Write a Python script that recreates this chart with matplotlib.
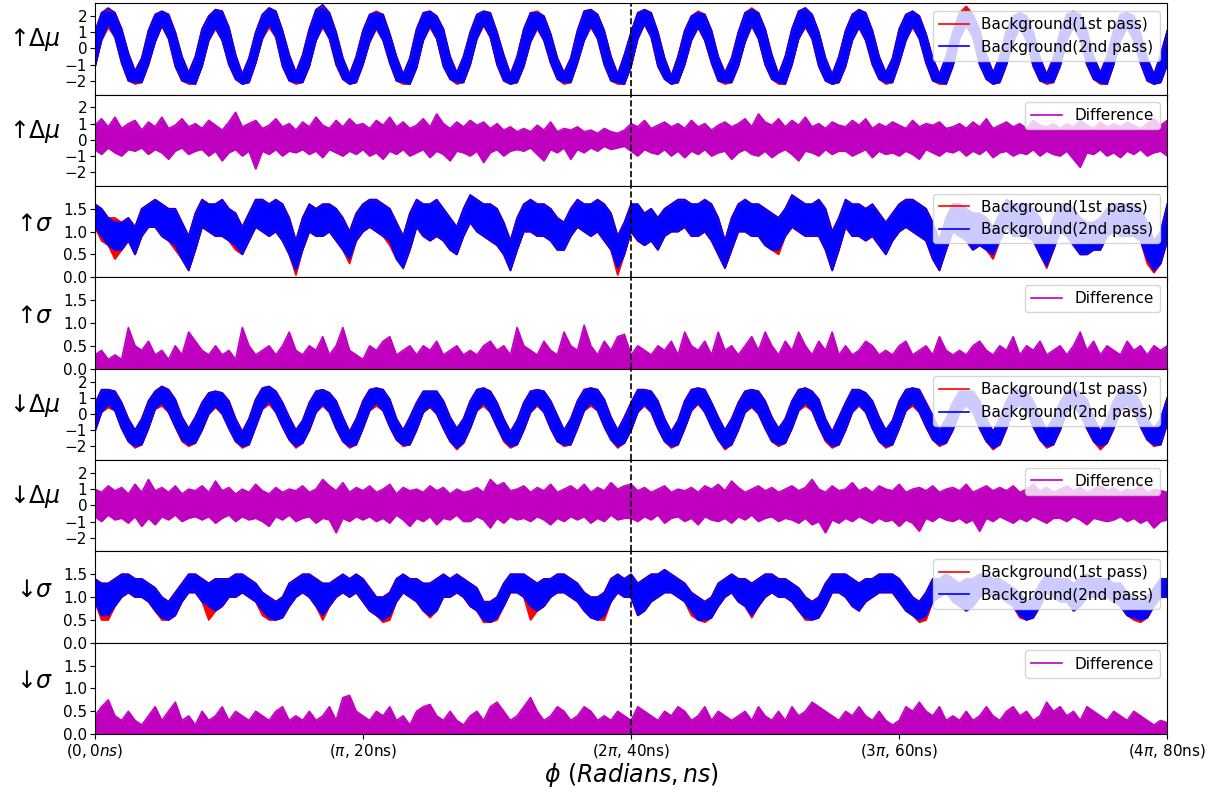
import numpy as np
import matplotlib
matplotlib.use("Agg")
import matplotlib.pyplot as plt

# ---------------- data (0.5 ns sampling, 0..80 ns) ----------------
T_NS = np.linspace(0, 80, 161)
DASH_X = 40
XTICKS = [0, 20, 40, 60, 80]
XTICKLABELS = [r'$(0, 0ns)$', r'($\pi$, 20ns)', r'(2$\pi$, 40ns)', r'(3$\pi$, 60ns)', r'(4$\pi$, 80ns)']
YLABELS = ['↑$\\Delta\\mu$', '↑$\\Delta\\mu$', '↑$\\sigma$', '↑$\\sigma$',
           '↓$\\Delta\\mu$', '↓$\\Delta\\mu$', '↓$\\sigma$', '↓$\\sigma$']

# ↑Δμ  (upper / lower edge of the noisy traces in each 0.5 ns bin)
UP_DMU_BLUE_HI = [
    1.0, 2.2, 2.5, 2.2, 1.2, -0.3, -1.4, -0.6,
    1.1, 2.1, 2.3, 2.1, 1.0, -0.5, -1.5, -0.5,
    1.2, 2.0, 2.4, 2.3, 1.3, -0.4, -1.6, -0.6,
    1.0, 2.1, 2.5, 2.3, 1.1, -0.4, -1.5, -0.4,
    1.2, 2.4, 2.7, 2.2, 1.0, -0.6, -1.6, -0.5,
    1.1, 2.1, 2.2, 2.1, 0.9, -0.5, -1.6, -0.6,
    1.2, 2.2, 2.3, 2.0, 1.2, -0.5, -1.5, -0.5,
    1.0, 2.1, 2.3, 2.2, 1.0, -0.4, -1.6, -0.5,
    1.2, 2.2, 2.2, 2.0, 0.9, -0.6, -1.5, -0.6,
    1.1, 2.3, 2.4, 2.1, 1.1, -0.5, -1.6, -0.4,
    1.0, 2.2, 2.4, 2.2, 1.0, -0.6, -1.7, -0.5,
    1.1, 2.0, 2.2, 2.1, 1.1, -0.5, -1.5, -0.6,
    1.0, 2.2, 2.4, 2.2, 1.2, -0.4, -1.6, -0.5,
    1.2, 2.3, 2.5, 2.1, 1.0, -0.6, -1.6, -0.5,
    1.1, 2.1, 2.4, 2.2, 1.1, -0.5, -1.5, -0.6,
    1.2, 2.1, 2.3, 2.0, 0.9, -0.6, -1.6, -0.5,
    1.0, 2.2, 2.3, 2.1, 1.1, -0.4, -1.5, -0.5,
    1.1, 2.0, 2.2, 2.0, 1.0, -0.6, -1.6, -0.6,
    1.0, 2.1, 2.2, 2.1, 1.1, -0.5, -1.5, -0.5,
    1.1, 2.1, 2.2, 2.0, 0.9, -0.6, -1.6, -0.4,
    1.1]
UP_DMU_BLUE_LO = [
    -1.2, 0.5, 1.5, 0.7, -0.9, -2.0, -2.1, -2.1,
    -1.0, 0.4, 1.4, 0.6, -1.1, -2.0, -2.1, -2.2,
    -1.1, 0.5, 1.3, 0.5, -1.0, -1.9, -2.2, -2.1,
    -0.9, 0.6, 1.5, 0.7, -1.1, -2.0, -2.1, -2.1,
    -1.1, 0.5, 1.4, 0.6, -1.0, -1.9, -2.2, -2.1,
    -1.0, 0.4, 1.3, 0.5, -0.9, -2.0, -2.1, -2.2,
    -1.2, 0.5, 1.4, 0.6, -1.1, -1.9, -2.1, -2.1,
    -1.0, 0.6, 1.5, 0.7, -1.0, -2.0, -2.2, -2.1,
    -1.1, 0.4, 1.3, 0.5, -0.9, -1.9, -2.1, -2.1,
    -0.9, 0.5, 1.4, 0.6, -1.0, -2.0, -2.1, -2.2,
    -1.1, 0.6, 1.5, 0.7, -1.1, -1.9, -2.2, -2.1,
    -1.0, 0.5, 1.3, 0.5, -0.9, -2.0, -2.1, -2.1,
    -1.1, 0.4, 1.4, 0.6, -1.0, -1.9, -2.1, -2.2,
    -1.0, 0.6, 1.4, 0.6, -1.1, -2.0, -2.2, -2.1,
    -1.1, 0.5, 1.3, 0.5, -1.0, -1.9, -2.1, -2.1,
    -0.9, 0.5, 1.4, 0.6, -0.9, -2.0, -2.1, -2.2,
    -1.1, 0.6, 1.5, 0.7, -1.0, -1.9, -2.2, -2.1,
    -1.0, 0.4, 1.3, 0.5, -1.1, -2.0, -2.1, -2.1,
    -1.1, 0.5, 1.4, 0.6, -1.0, -1.9, -2.1, -2.2,
    -1.0, 0.5, 1.3, 0.5, -0.9, -2.0, -2.2, -2.1,
    -1.0]
UP_DMU_RED_HI = [
    1.0, 2.2, 2.4, 2.2, 1.2, -0.3, -1.4, -0.6,
    1.1, 2.1, 2.3, 2.1, 1.0, -0.5, -1.5, -0.5,
    1.2, 2.0, 2.4, 2.3, 1.3, -0.4, -1.6, -0.6,
    1.0, 2.1, 2.5, 2.3, 1.1, -0.4, -1.5, -0.4,
    1.2, 2.4, 2.6, 2.2, 1.0, -0.6, -1.6, -0.5,
    1.1, 2.1, 2.3, 2.1, 0.9, -0.5, -1.6, -0.6,
    1.2, 2.2, 2.3, 2.0, 1.2, -0.5, -1.5, -0.5,
    1.0, 2.1, 2.3, 2.2, 1.0, -0.4, -1.6, -0.5,
    1.2, 2.2, 2.3, 2.0, 0.9, -0.6, -1.5, -0.6,
    1.1, 2.3, 2.4, 2.1, 1.1, -0.5, -1.6, -0.4,
    1.0, 2.2, 2.4, 2.2, 1.0, -0.6, -1.7, -0.5,
    1.1, 2.0, 2.3, 2.1, 1.1, -0.5, -1.5, -0.6,
    1.0, 2.2, 2.5, 2.2, 1.2, -0.4, -1.6, -0.5,
    1.2, 2.3, 2.5, 2.1, 1.0, -0.6, -1.6, -0.5,
    1.1, 2.1, 2.4, 2.2, 1.1, -0.5, -1.5, -0.6,
    1.2, 2.1, 2.3, 2.0, 0.9, -0.6, -1.6, -0.5,
    1.0, 2.2, 2.6, 2.1, 1.1, -0.4, -1.5, -0.5,
    1.1, 2.0, 2.2, 2.0, 1.0, -0.6, -1.6, -0.6,
    1.0, 2.1, 2.3, 2.1, 1.1, -0.5, -1.5, -0.5,
    1.1, 2.1, 2.2, 2.0, 0.9, -0.6, -1.6, -0.4,
    1.1]
UP_DMU_RED_LO = [
    -1.2, 0.5, 1.3, 0.7, -0.9, -2.0, -2.2, -2.1,
    -1.0, 0.4, 1.4, 0.6, -1.1, -2.0, -2.2, -2.2,
    -1.1, 0.5, 1.2, 0.5, -1.0, -1.9, -2.2, -2.1,
    -0.9, 0.6, 1.3, 0.7, -1.1, -2.0, -2.2, -2.1,
    -1.1, 0.5, 1.3, 0.6, -1.0, -1.9, -2.2, -2.1,
    -1.0, 0.4, 1.2, 0.5, -0.9, -2.0, -2.2, -2.2,
    -1.2, 0.5, 1.3, 0.6, -1.1, -1.9, -2.2, -2.1,
    -1.0, 0.6, 1.4, 0.7, -1.0, -2.0, -2.2, -2.1,
    -1.1, 0.4, 1.2, 0.5, -0.9, -1.9, -2.2, -2.1,
    -0.9, 0.5, 1.3, 0.6, -1.0, -2.0, -2.2, -2.2,
    -1.1, 0.6, 1.5, 0.7, -1.1, -1.9, -2.2, -2.1,
    -1.0, 0.5, 1.3, 0.5, -0.9, -2.0, -2.2, -2.1,
    -1.1, 0.4, 1.4, 0.6, -1.0, -1.9, -2.2, -2.2,
    -1.0, 0.6, 1.3, 0.6, -1.1, -2.0, -2.2, -2.1,
    -1.1, 0.5, 1.3, 0.5, -1.0, -1.9, -2.2, -2.1,
    -0.9, 0.5, 1.3, 0.6, -0.9, -2.0, -2.2, -2.2,
    -1.1, 0.6, 1.4, 0.7, -1.0, -1.9, -2.2, -2.1,
    -1.0, 0.4, 1.3, 0.5, -1.1, -2.0, -2.2, -2.1,
    -1.1, 0.5, 1.3, 0.6, -1.0, -1.9, -2.2, -2.2,
    -1.0, 0.5, 1.3, 0.5, -0.9, -2.0, -2.2, -2.1,
    -1.0]

# ↑Δμ difference
UP_DMU_DIFF_HI = [
    0.9, 1.3, 0.8, 1.4, 0.7, 1.0, 1.2, 0.6,
    1.1, 0.8, 1.4, 0.7, 0.9, 1.3, 0.8, 1.0,
    0.7, 1.2, 0.9, 0.6, 1.1, 1.7, 0.8, 1.0,
    1.2, 0.7, 0.9, 1.3, 0.8, 1.0, 0.6, 1.1,
    0.8, 1.4, 0.9, 0.7, 1.2, 0.8, 1.3, 0.9,
    1.0, 0.7, 1.2, 0.9, 1.4, 0.8, 1.1, 0.7,
    0.9, 1.3, 0.8, 1.6, 1.0, 0.7, 1.1, 0.8,
    1.2, 0.9, 1.1, 0.7, 1.0, 0.6, 0.8, 0.5,
    0.7, 0.5, 0.9, 0.6, 1.1, 0.5, 0.7, 0.6,
    0.8, 0.5, 0.6, 0.4, 0.7, 0.5, 0.4, 0.6,
    1.0, 0.8, 1.2, 0.7, 0.9, 1.1, 0.8, 1.0,
    0.7, 1.2, 0.8, 1.0, 0.6, 0.9, 1.1, 0.8,
    1.0, 1.3, 0.8, 1.6, 1.1, 0.9, 1.3, 0.8,
    1.2, 0.9, 1.4, 0.8, 1.0, 0.7, 1.1, 0.9,
    0.8, 1.2, 0.9, 1.3, 0.7, 1.0, 0.8, 1.1,
    0.9, 0.7, 1.2, 0.8, 1.0, 0.9, 1.1, 0.7,
    0.8, 1.0, 0.7, 1.1, 0.8, 1.3, 0.7, 0.9,
    1.1, 0.8, 1.0, 0.7, 1.2, 0.9, 0.8, 1.0,
    0.7, 1.0, 0.8, 1.2, 0.9, 0.7, 1.1, 0.8,
    1.0, 0.8, 1.1, 0.9, 0.7, 1.0, 1.3, 0.9,
    1.2]
UP_DMU_DIFF_LO = [
    -0.6, -0.9, -0.5, -0.8, -1.0, -0.6, -0.7, -0.5,
    -0.9, -0.6, -0.8, -1.2, -0.7, -0.5, -0.9, -0.7,
    -0.6, -1.0, -0.7, -1.3, -0.8, -0.6, -1.0, -0.7,
    -1.8, -0.7, -0.9, -0.6, -1.0, -0.7, -0.8, -0.6,
    -0.9, -0.7, -1.1, -0.6, -0.8, -1.0, -0.7, -0.9,
    -0.6, -1.0, -0.8, -1.2, -0.7, -0.9, -0.6, -1.0,
    -0.8, -0.6, -1.1, -0.7, -0.9, -1.3, -0.7, -0.8,
    -1.0, -0.7, -1.4, -0.8, -0.6, -1.0, -0.7, -0.6,
    -0.7, -0.5, -0.9, -1.3, -0.6, -0.8, -0.5, -1.2,
    -0.6, -0.8, -0.5, -0.7, -0.4, -0.6, -0.5, -0.4,
    -0.7, -1.0, -0.6, -0.8, -0.9, -0.6, -1.0, -0.7,
    -1.1, -0.7, -0.9, -0.6, -1.0, -0.8, -0.7, -1.2,
    -0.8, -0.6, -0.9, -1.0, -0.7, -1.1, -0.8, -0.6,
    -0.9, -1.3, -0.7, -0.8, -1.0, -0.6, -0.9, -0.7,
    -0.7, -1.0, -0.8, -0.6, -1.1, -0.7, -0.9, -0.8,
    -1.0, -0.7, -0.9, -1.2, -0.6, -0.8, -1.0, -0.7,
    -0.8, -0.6, -1.0, -0.7, -0.9, -0.6, -1.1, -0.8,
    -0.7, -1.0, -0.8, -0.9, -0.6, -1.0, -0.7, -0.9,
    -1.0, -0.7, -1.2, -1.7, -0.8, -0.9, -0.6, -1.0,
    -0.8, -1.1, -0.7, -0.9, -0.6, -1.0, -0.8, -0.7,
    -1.0]

# ↑σ
UP_SIG_BLUE_HI = [
    1.6, 1.5, 1.3, 1.2, 1.2, 1.3, 1.1, 1.5, 1.6, 1.7, 1.6, 1.5, 1.5, 1.2, 0.9, 1.4,
    1.7, 1.6, 1.6, 1.7, 1.5, 1.4, 1.1, 1.4, 1.7, 1.7, 1.6, 1.7, 1.6, 1.3, 0.8, 1.3,
    1.6, 1.5, 1.6, 1.6, 1.5, 1.3, 1.0, 1.4, 1.6, 1.7, 1.7, 1.6, 1.5, 1.2, 0.9, 1.4,
    1.7, 1.6, 1.6, 1.7, 1.5, 1.3, 1.1, 1.5, 1.8, 1.7, 1.6, 1.6, 1.5, 1.2, 0.8, 1.3,
    1.6, 1.7, 1.6, 1.6, 1.5, 1.3, 1.2, 1.5, 1.7, 1.6, 1.6, 1.7, 1.6, 1.4, 0.9, 1.2,
    1.6, 1.6, 1.4, 1.5, 1.3, 1.5, 1.6, 1.7, 1.7, 1.6, 1.6, 1.7, 1.6, 1.3, 0.8, 1.3,
    1.6, 1.7, 1.6, 1.6, 1.5, 1.4, 1.3, 1.5, 1.8, 1.7, 1.6, 1.6, 1.7, 1.5, 1.0, 1.3,
    1.7, 1.6, 1.6, 1.5, 1.6, 1.4, 1.2, 1.4, 1.6, 1.7, 1.7, 1.6, 1.5, 1.2, 0.8, 1.3,
    1.6, 1.6, 1.5, 1.4, 1.4, 1.3, 1.1, 1.4, 1.7, 1.6, 1.6, 1.6, 1.5, 1.3, 0.9, 1.3,
    1.6, 1.6, 1.5, 1.3, 1.2, 1.2, 1.3, 1.5, 1.6, 1.6, 1.6, 1.6, 1.5, 1.2, 0.8, 1.0,
    1.6]
UP_SIG_BLUE_LO = [
    1.1, 0.9, 0.7, 0.6, 0.6, 0.8, 0.5, 0.9, 1.1, 1.1, 0.9, 0.8, 0.7, 0.4, 0.15, 0.6,
    1.1, 1.0, 0.9, 0.9, 0.8, 0.7, 0.5, 0.8, 1.1, 1.0, 0.9, 1.0, 0.8, 0.5, 0.15, 0.6,
    1.0, 0.9, 0.9, 1.0, 0.8, 0.6, 0.4, 0.8, 1.0, 1.1, 1.0, 0.9, 0.8, 0.4, 0.2, 0.6,
    1.1, 0.9, 0.8, 0.9, 0.8, 0.6, 0.5, 0.9, 1.2, 1.0, 0.9, 0.8, 0.7, 0.5, 0.15, 0.6,
    1.0, 1.0, 0.9, 0.9, 0.8, 0.6, 0.6, 0.9, 1.1, 1.0, 0.9, 1.0, 0.8, 0.6, 0.2, 0.5,
    1.0, 0.8, 0.7, 0.8, 0.6, 0.9, 1.0, 1.0, 1.1, 0.9, 0.9, 1.0, 0.8, 0.5, 0.2, 0.6,
    1.0, 1.0, 0.9, 0.9, 0.7, 0.6, 0.6, 0.9, 1.1, 1.0, 0.9, 0.9, 0.9, 0.6, 0.15, 0.6,
    1.1, 0.9, 0.9, 0.8, 0.9, 0.7, 0.5, 0.8, 1.0, 1.1, 1.0, 0.9, 0.8, 0.4, 0.15, 0.6,
    1.0, 0.9, 0.8, 0.6, 0.7, 0.6, 0.5, 0.8, 1.1, 0.9, 0.9, 0.9, 0.8, 0.5, 0.25, 0.6,
    1.0, 0.9, 0.7, 0.5, 0.5, 0.6, 0.6, 0.9, 1.0, 0.9, 0.9, 0.9, 0.8, 0.4, 0.15, 0.3,
    0.8]
UP_SIG_RED_HI = [
    1.6, 1.5, 1.3, 1.3, 1.2, 1.3, 1.1, 1.5, 1.6, 1.7, 1.6, 1.5, 1.5, 1.2, 0.9, 1.4,
    1.7, 1.6, 1.6, 1.7, 1.5, 1.4, 1.1, 1.4, 1.7, 1.7, 1.6, 1.7, 1.6, 1.3, 0.8, 1.3,
    1.6, 1.5, 1.6, 1.6, 1.5, 1.3, 1.0, 1.4, 1.6, 1.7, 1.7, 1.6, 1.5, 1.2, 0.9, 1.4,
    1.7, 1.6, 1.6, 1.7, 1.5, 1.3, 1.1, 1.5, 1.8, 1.7, 1.6, 1.6, 1.5, 1.2, 0.8, 1.3,
    1.6, 1.7, 1.6, 1.6, 1.5, 1.3, 1.2, 1.5, 1.7, 1.6, 1.6, 1.7, 1.6, 1.4, 0.9, 1.2,
    1.6, 1.6, 1.4, 1.5, 1.3, 1.5, 1.6, 1.7, 1.7, 1.6, 1.6, 1.7, 1.6, 1.3, 0.8, 1.3,
    1.6, 1.7, 1.6, 1.6, 1.5, 1.4, 1.3, 1.5, 1.8, 1.7, 1.6, 1.6, 1.7, 1.5, 1.0, 1.3,
    1.7, 1.6, 1.6, 1.5, 1.6, 1.4, 1.2, 1.4, 1.6, 1.7, 1.7, 1.6, 1.5, 1.2, 0.8, 1.3,
    1.6, 1.6, 1.5, 1.4, 1.4, 1.3, 1.1, 1.4, 1.7, 1.6, 1.6, 1.6, 1.5, 1.3, 0.9, 1.3,
    1.6, 1.6, 1.5, 1.3, 1.2, 1.2, 1.3, 1.5, 1.6, 1.6, 1.6, 1.6, 1.5, 1.2, 0.8, 1.0,
    1.6]
UP_SIG_RED_LO = [
    1.1, 0.8, 0.7, 0.4, 0.6, 0.8, 0.5, 0.9, 1.1, 1.1, 0.9, 0.8, 0.6, 0.4, 0.15, 0.6,
    1.1, 1.0, 0.9, 0.9, 0.8, 0.6, 0.5, 0.8, 1.1, 1.0, 0.9, 1.0, 0.8, 0.5, 0.05, 0.6,
    1.0, 0.9, 0.9, 1.0, 0.8, 0.6, 0.3, 0.8, 1.0, 1.1, 1.0, 0.9, 0.7, 0.4, 0.2, 0.6,
    1.1, 0.9, 0.8, 0.9, 0.8, 0.6, 0.5, 0.9, 1.2, 1.0, 0.9, 0.8, 0.7, 0.5, 0.15, 0.6,
    1.0, 1.0, 0.9, 0.9, 0.8, 0.6, 0.6, 0.9, 1.1, 1.0, 0.9, 1.0, 0.8, 0.6, 0.05, 0.5,
    1.0, 0.8, 0.7, 0.8, 0.6, 0.9, 1.0, 1.0, 1.1, 0.9, 0.9, 1.0, 0.8, 0.5, 0.2, 0.6,
    1.0, 1.0, 0.9, 0.9, 0.7, 0.6, 0.5, 0.9, 1.1, 1.0, 0.9, 0.9, 0.9, 0.6, 0.15, 0.6,
    1.1, 0.9, 0.9, 0.8, 0.9, 0.7, 0.5, 0.8, 1.0, 1.1, 1.0, 0.9, 0.8, 0.4, 0.15, 0.6,
    1.0, 0.9, 0.8, 0.6, 0.7, 0.6, 0.4, 0.8, 1.1, 0.9, 0.9, 0.9, 0.8, 0.5, 0.2, 0.6,
    1.0, 0.9, 0.7, 0.5, 0.5, 0.6, 0.6, 0.9, 1.0, 0.9, 0.9, 0.9, 0.8, 0.3, 0.1, 0.3,
    0.8]

# ↑σ difference
UP_SIG_DIFF = [
    0.3, 0.4, 0.2, 0.3, 0.2, 0.9, 0.5, 0.4,
    0.6, 0.3, 0.4, 0.2, 0.5, 0.3, 0.8, 0.6,
    0.4, 0.3, 0.5, 0.3, 0.4, 0.2, 0.9, 0.5,
    0.3, 0.4, 0.5, 0.3, 0.5, 0.8, 0.4, 0.3,
    0.5, 0.4, 0.7, 0.3, 0.5, 0.9, 0.4, 0.3,
    0.2, 0.5, 0.4, 0.6, 0.7, 0.3, 0.4, 0.5,
    0.3, 0.5, 0.4, 0.6, 0.3, 0.4, 0.5, 0.3,
    0.4, 0.3, 0.5, 0.6, 0.4, 0.5, 0.3, 0.9,
    0.5, 0.4, 0.3, 0.6, 0.4, 0.3, 0.8, 0.5,
    0.4, 0.95, 0.5, 0.3, 0.6, 0.4, 0.7, 0.75,
    0.3, 0.5, 0.4, 0.3, 0.5, 0.4, 0.6, 0.3,
    0.8, 0.5, 0.4, 0.6, 0.3, 0.8, 0.4, 0.5,
    0.3, 0.5, 0.7, 0.4, 0.8, 0.5, 0.3, 0.6,
    0.4, 0.8, 0.5, 0.3, 0.6, 0.4, 0.8, 0.3,
    0.5, 0.3, 0.4, 0.6, 0.5, 0.3, 0.4, 0.3,
    0.5, 0.6, 0.3, 0.4, 0.5, 0.3, 0.7, 0.4,
    0.3, 0.4, 0.3, 0.5, 0.6, 0.4, 0.3, 0.5,
    0.4, 0.7, 0.3, 0.5, 0.4, 0.6, 0.3, 0.4,
    0.5, 0.3, 0.5, 0.8, 0.4, 0.6, 0.3, 0.5,
    0.4, 0.3, 0.6, 0.4, 0.5, 0.3, 0.5, 0.4,
    0.5]

# ↓Δμ
DN_DMU_BLUE_HI = [
    0.6, 1.5, 1.5, 1.4, 0.7, -0.3, -1.0, -0.3,
    0.8, 1.4, 1.7, 1.5, 0.9, -0.2, -0.9, -0.2,
    0.7, 1.3, 1.4, 1.3, 0.8, -0.3, -1.1, -0.3,
    0.9, 1.6, 1.7, 1.4, 0.7, -0.2, -1.0, -0.4,
    0.7, 1.4, 1.5, 1.3, 0.8, -0.2, -1.1, -0.3,
    0.8, 1.5, 1.6, 1.5, 0.9, -0.3, -1.0, -0.2,
    0.7, 1.4, 1.4, 1.4, 0.8, -0.2, -0.9, -0.3,
    0.8, 1.5, 1.6, 1.4, 0.7, -0.3, -1.1, -0.4,
    0.7, 1.4, 1.5, 1.4, 0.8, -0.1, -1.0, -0.3,
    0.8, 1.5, 1.6, 1.5, 0.9, -0.2, -1.0, -0.2,
    0.7, 1.5, 1.5, 1.4, 0.8, -0.3, -1.1, -0.4,
    0.8, 1.5, 1.6, 1.5, 0.7, -0.2, -1.0, -0.3,
    0.7, 1.4, 1.5, 1.4, 0.8, -0.2, -0.9, -0.3,
    0.8, 1.5, 1.6, 1.4, 0.9, -0.3, -1.1, -0.2,
    0.7, 1.5, 1.5, 1.3, 0.8, -0.2, -1.0, -0.4,
    0.8, 1.5, 1.6, 1.5, 0.7, -0.1, -1.0, -0.3,
    0.7, 1.4, 1.4, 1.4, 0.8, -0.3, -1.1, -0.3,
    0.8, 1.5, 1.5, 1.4, 0.8, -0.2, -1.0, -0.2,
    0.7, 1.4, 1.5, 1.3, 0.9, -0.2, -1.1, -0.3,
    0.8, 1.5, 1.4, 1.4, 0.7, -0.3, -0.9, -0.3,
    1.0]
DN_DMU_BLUE_LO = [
    -1.1, 0.1, 0.6, 0.2, -0.9, -1.7, -2.0, -1.9,
    -0.9, 0.3, 0.7, 0.1, -0.8, -1.6, -1.9, -1.8,
    -1.0, 0.0, 0.5, 0.0, -0.9, -1.7, -2.0, -1.9,
    -0.8, 0.3, 0.8, 0.1, -0.8, -1.6, -2.0, -1.8,
    -1.0, 0.1, 0.6, 0.1, -0.9, -1.7, -2.0, -1.9,
    -0.9, 0.2, 0.7, 0.2, -0.8, -1.6, -1.9, -1.9,
    -1.0, 0.1, 0.5, 0.0, -0.9, -1.7, -2.1, -1.8,
    -0.9, 0.2, 0.7, 0.1, -0.8, -1.6, -2.0, -1.9,
    -1.0, 0.1, 0.6, 0.1, -0.9, -1.7, -1.9, -1.9,
    -0.9, 0.2, 0.7, 0.2, -0.8, -1.6, -2.0, -1.8,
    -1.0, 0.1, 0.6, 0.1, -0.9, -1.7, -2.0, -1.9,
    -0.9, 0.2, 0.7, 0.1, -0.8, -1.6, -2.1, -1.9,
    -1.0, 0.1, 0.5, 0.0, -0.9, -1.7, -1.9, -1.8,
    -0.9, 0.2, 0.7, 0.2, -0.8, -1.6, -2.0, -1.9,
    -1.0, 0.1, 0.6, 0.1, -0.9, -1.7, -2.0, -1.9,
    -0.9, 0.2, 0.7, 0.1, -0.8, -1.6, -1.9, -1.8,
    -1.0, 0.1, 0.6, 0.1, -0.9, -1.7, -2.1, -1.9,
    -0.9, 0.2, 0.6, 0.2, -0.8, -1.6, -2.0, -1.9,
    -1.0, 0.1, 0.5, 0.0, -0.9, -1.7, -2.0, -1.8,
    -0.9, 0.2, 0.6, 0.1, -0.8, -1.6, -1.9, -1.9,
    -0.6]
DN_DMU_RED_HI = [
    0.6, 1.5, 1.5, 1.4, 0.7, -0.3, -1.0, -0.3,
    0.8, 1.4, 1.7, 1.5, 0.9, -0.2, -0.9, -0.2,
    0.7, 1.3, 1.4, 1.3, 0.8, -0.3, -1.1, -0.3,
    0.9, 1.6, 1.7, 1.4, 0.7, -0.2, -1.0, -0.4,
    0.7, 1.4, 1.5, 1.3, 0.8, -0.2, -1.1, -0.3,
    0.8, 1.5, 1.6, 1.5, 0.9, -0.3, -1.0, -0.2,
    0.7, 1.4, 1.4, 1.4, 0.8, -0.2, -0.9, -0.3,
    0.8, 1.5, 1.6, 1.4, 0.7, -0.3, -1.1, -0.4,
    0.7, 1.4, 1.5, 1.4, 0.8, -0.1, -1.0, -0.3,
    0.8, 1.5, 1.6, 1.5, 0.9, -0.2, -1.0, -0.2,
    0.7, 1.5, 1.5, 1.4, 0.8, -0.3, -1.1, -0.4,
    0.8, 1.5, 1.6, 1.5, 0.7, -0.2, -1.0, -0.3,
    0.7, 1.4, 1.5, 1.4, 0.8, -0.2, -0.9, -0.3,
    0.8, 1.5, 1.6, 1.4, 0.9, -0.3, -1.1, -0.2,
    0.7, 1.5, 1.5, 1.3, 0.8, -0.2, -1.0, -0.4,
    0.8, 1.5, 1.6, 1.5, 0.7, -0.1, -1.0, -0.3,
    0.7, 1.4, 1.4, 1.4, 0.8, -0.3, -1.1, -0.3,
    0.8, 1.5, 1.5, 1.4, 0.8, -0.2, -1.0, -0.2,
    0.7, 1.4, 1.5, 1.3, 0.9, -0.2, -1.1, -0.3,
    0.8, 1.5, 1.4, 1.4, 0.7, -0.3, -0.9, -0.3,
    1.0]
DN_DMU_RED_LO = [
    -1.1, 0.1, 0.4, 0.2, -0.9, -1.7, -2.1, -1.9,
    -0.9, 0.3, 0.5, 0.1, -0.8, -1.7, -2.0, -1.8,
    -1.0, 0.0, 0.4, 0.0, -0.9, -1.7, -2.1, -1.9,
    -0.8, 0.3, 0.6, 0.1, -0.8, -1.6, -2.1, -1.8,
    -1.0, 0.1, 0.5, 0.1, -0.9, -1.7, -2.1, -1.9,
    -0.9, 0.2, 0.5, 0.2, -0.8, -1.6, -2.0, -1.9,
    -1.0, 0.1, 0.4, 0.0, -0.9, -1.7, -2.2, -1.8,
    -0.9, 0.2, 0.5, 0.1, -0.8, -1.7, -2.1, -1.9,
    -1.0, 0.1, 0.5, 0.1, -0.9, -1.7, -2.0, -1.9,
    -0.9, 0.2, 0.5, 0.2, -0.8, -1.6, -2.1, -1.8,
    -1.0, 0.1, 0.5, 0.1, -0.9, -1.7, -2.1, -1.9,
    -0.9, 0.2, 0.6, 0.1, -0.8, -1.6, -2.2, -1.9,
    -1.0, 0.1, 0.4, 0.0, -0.9, -1.7, -2.0, -1.8,
    -0.9, 0.2, 0.5, 0.2, -0.8, -1.7, -2.1, -1.9,
    -1.0, 0.1, 0.5, 0.1, -0.9, -1.7, -2.1, -1.9,
    -0.9, 0.2, 0.5, 0.1, -0.8, -1.6, -2.0, -1.8,
    -1.0, 0.1, 0.5, 0.1, -0.9, -1.7, -2.2, -1.9,
    -0.9, 0.2, 0.5, 0.2, -0.8, -1.6, -2.1, -1.9,
    -1.0, 0.1, 0.4, 0.0, -0.9, -1.7, -2.2, -1.8,
    -0.9, 0.2, 0.5, 0.1, -0.8, -1.6, -2.0, -1.9,
    -0.6]

# ↓Δμ difference
DN_DMU_DIFF_HI = [
    1.0, 0.8, 1.2, 0.9, 1.1, 0.7, 1.3, 0.8,
    1.6, 0.9, 1.1, 0.8, 1.2, 0.7, 1.0, 0.9,
    1.2, 0.8, 1.5, 0.9, 1.1, 0.7, 1.0, 0.8,
    1.3, 0.9, 0.7, 1.1, 0.8, 1.0, 0.9, 1.2,
    0.8, 1.0, 1.6, 1.2, 0.9, 1.4, 0.8, 1.1,
    0.9, 1.2, 0.8, 1.0, 1.3, 0.7, 1.1, 0.9,
    1.0, 0.8, 1.2, 0.9, 1.1, 0.7, 1.0, 0.8,
    0.9, 1.1, 0.8, 1.6, 1.2, 1.4, 0.9, 1.0,
    1.2, 0.8, 1.1, 0.9, 1.3, 0.8, 1.0, 1.2,
    0.9, 1.3, 0.8, 1.1, 0.9, 1.4, 1.0, 1.2,
    1.3, 0.9, 1.1, 0.8, 1.0, 1.2, 0.8, 1.0,
    0.9, 1.1, 0.8, 1.2, 1.0, 1.3, 0.9, 1.5,
    1.1, 0.8, 1.0, 1.2, 0.9, 1.1, 0.8, 1.0,
    1.2, 0.9, 1.1, 1.6, 1.0, 0.8, 1.2, 0.9,
    1.0, 1.4, 0.9, 1.1, 0.8, 1.2, 1.0, 0.9,
    1.3, 0.8, 1.0, 1.1, 0.9, 1.2, 0.8, 1.0,
    1.1, 0.9, 1.3, 0.8, 1.0, 1.2, 0.9, 1.1,
    0.9, 1.2, 0.8, 1.0, 1.3, 0.9, 1.1, 0.8,
    1.0, 1.2, 0.9, 1.1, 0.8, 1.0, 1.2, 0.9,
    1.1, 0.8, 1.0, 0.9, 1.2, 0.8, 1.0, 0.9,
    0.8]
DN_DMU_DIFF_LO = [
    -0.7, -1.0, -0.6, -0.9, -0.8, -1.1, -0.7, -1.3,
    -0.8, -1.2, -0.7, -0.9, -0.6, -1.0, -0.8, -0.7,
    -0.9, -0.7, -1.1, -0.8, -0.6, -1.0, -0.7, -0.9,
    -0.8, -1.0, -1.3, -0.7, -0.9, -0.6, -1.0, -0.8,
    -0.7, -1.1, -0.8, -0.9, -1.7, -0.8, -1.0, -0.7,
    -0.9, -0.7, -1.0, -0.8, -1.1, -0.6, -0.9, -1.3,
    -0.8, -1.0, -0.7, -1.2, -0.8, -0.9, -0.6, -1.0,
    -1.0, -0.7, -0.9, -1.4, -0.8, -1.1, -0.7, -0.9,
    -0.8, -1.0, -0.7, -0.9, -1.2, -0.8, -1.0, -0.7,
    -0.9, -0.7, -1.1, -0.8, -1.0, -0.6, -0.9, -0.8,
    -0.8, -1.0, -0.7, -0.9, -0.6, -1.1, -0.8, -0.7,
    -1.0, -0.8, -1.2, -0.7, -0.9, -1.0, -0.8, -1.1,
    -0.7, -0.9, -0.6, -1.0, -0.8, -0.7, -1.0, -0.8,
    -0.9, -1.1, -0.8, -1.2, -1.0, -1.7, -0.9, -1.1,
    -0.8, -1.0, -0.7, -0.9, -1.1, -0.8, -1.0, -0.9,
    -1.3, -0.9, -1.1, -1.6, -0.8, -1.0, -0.7, -0.9,
    -1.0, -0.8, -1.1, -0.9, -1.6, -0.8, -1.0, -0.7,
    -0.9, -1.1, -0.8, -1.0, -0.7, -0.9, -1.1, -0.8,
    -0.8, -1.0, -0.7, -0.9, -1.2, -0.8, -0.9, -1.0,
    -0.9, -0.7, -1.0, -0.8, -1.1, -0.9, -1.4, -1.0,
    -0.9]

# ↓σ
DN_SIG_BLUE_HI = [
    1.4, 1.3, 1.3, 1.4, 1.5, 1.5, 1.4, 1.4, 1.3, 1.2, 1.0, 0.9, 1.1, 1.3, 1.5, 1.5,
    1.4, 1.3, 1.4, 1.4, 1.4, 1.5, 1.5, 1.4, 1.3, 1.1, 1.0, 0.9, 1.0, 1.3, 1.4, 1.5,
    1.5, 1.4, 1.3, 1.3, 1.4, 1.5, 1.4, 1.5, 1.4, 1.2, 1.0, 1.0, 1.1, 1.4, 1.5, 1.4,
    1.4, 1.3, 1.3, 1.4, 1.5, 1.4, 1.5, 1.4, 1.3, 1.2, 0.9, 0.9, 1.0, 1.3, 1.5, 1.5,
    1.5, 1.4, 1.3, 1.4, 1.4, 1.5, 1.5, 1.4, 1.3, 1.1, 1.0, 1.0, 1.1, 1.4, 1.5, 1.4,
    1.5, 1.3, 1.4, 1.5, 1.5, 1.6, 1.5, 1.4, 1.3, 1.1, 1.0, 0.9, 1.0, 1.3, 1.4, 1.5,
    1.4, 1.4, 1.3, 1.4, 1.5, 1.5, 1.4, 1.4, 1.3, 1.2, 1.0, 0.9, 1.0, 1.3, 1.5, 1.5,
    1.5, 1.4, 1.3, 1.4, 1.4, 1.5, 1.5, 1.5, 1.4, 1.2, 1.0, 0.9, 1.1, 1.4, 1.4, 1.5,
    1.4, 1.3, 1.4, 1.4, 1.5, 1.5, 1.4, 1.4, 1.3, 1.2, 1.1, 0.9, 1.0, 1.3, 1.5, 1.4,
    1.4, 1.4, 1.3, 1.4, 1.5, 1.4, 1.4, 1.4, 1.3, 1.3, 1.1, 1.0, 0.9, 1.0, 1.2, 1.4,
    1.4]
DN_SIG_BLUE_LO = [
    0.9, 0.6, 0.6, 0.8, 1.0, 1.1, 1.0, 1.0, 0.9, 0.7, 0.55, 0.5, 0.6, 0.9, 1.1, 1.1,
    0.9, 0.8, 0.7, 0.8, 1.0, 1.0, 1.1, 1.0, 0.9, 0.7, 0.55, 0.5, 0.55, 0.8, 1.0, 1.1,
    1.0, 0.8, 0.6, 0.8, 1.0, 1.1, 1.0, 1.1, 0.9, 0.7, 0.6, 0.5, 0.6, 0.9, 1.1, 1.0,
    0.9, 0.7, 0.6, 0.7, 1.0, 1.0, 1.1, 1.0, 0.8, 0.7, 0.5, 0.45, 0.55, 0.8, 1.1, 1.1,
    1.0, 0.8, 0.7, 0.8, 1.0, 1.1, 1.1, 1.0, 0.9, 0.7, 0.55, 0.5, 0.6, 0.9, 1.1, 1.0,
    1.0, 0.6, 0.7, 0.9, 1.0, 1.1, 1.1, 1.0, 0.9, 0.7, 0.5, 0.5, 0.55, 0.8, 1.0, 1.1,
    0.9, 0.8, 0.6, 0.8, 1.0, 1.1, 1.0, 1.0, 0.9, 0.7, 0.55, 0.5, 0.55, 0.8, 1.1, 1.1,
    1.0, 0.8, 0.7, 0.9, 1.0, 1.1, 1.1, 1.1, 0.9, 0.7, 0.6, 0.5, 0.6, 0.9, 1.0, 1.1,
    0.9, 0.8, 0.7, 0.8, 1.0, 1.1, 1.0, 1.0, 0.9, 0.8, 0.6, 0.5, 0.55, 0.8, 1.1, 1.0,
    0.9, 0.9, 0.7, 0.8, 1.0, 1.0, 1.0, 1.0, 0.9, 0.8, 0.6, 0.55, 0.5, 0.55, 0.8, 1.0,
    1.0]
DN_SIG_RED_HI = [
    1.4, 1.3, 1.3, 1.4, 1.5, 1.5, 1.4, 1.4, 1.3, 1.2, 1.0, 0.9, 1.1, 1.3, 1.5, 1.5,
    1.4, 1.3, 1.4, 1.4, 1.4, 1.5, 1.5, 1.4, 1.3, 1.1, 1.0, 0.9, 1.0, 1.3, 1.4, 1.5,
    1.5, 1.4, 1.3, 1.3, 1.4, 1.5, 1.4, 1.5, 1.4, 1.2, 1.0, 1.0, 1.1, 1.4, 1.5, 1.4,
    1.4, 1.3, 1.3, 1.4, 1.5, 1.4, 1.5, 1.4, 1.3, 1.2, 0.9, 0.9, 1.0, 1.3, 1.5, 1.5,
    1.5, 1.4, 1.3, 1.4, 1.4, 1.5, 1.5, 1.4, 1.3, 1.1, 1.0, 1.0, 1.1, 1.4, 1.5, 1.4,
    1.5, 1.3, 1.4, 1.5, 1.5, 1.6, 1.5, 1.4, 1.3, 1.1, 1.0, 0.9, 1.0, 1.3, 1.4, 1.5,
    1.4, 1.4, 1.3, 1.4, 1.5, 1.5, 1.4, 1.4, 1.3, 1.2, 1.0, 0.9, 1.0, 1.3, 1.5, 1.5,
    1.5, 1.4, 1.3, 1.4, 1.4, 1.5, 1.5, 1.5, 1.4, 1.2, 1.0, 0.9, 1.1, 1.4, 1.4, 1.5,
    1.4, 1.3, 1.4, 1.4, 1.5, 1.5, 1.4, 1.4, 1.3, 1.2, 1.1, 0.9, 1.0, 1.3, 1.5, 1.4,
    1.4, 1.4, 1.3, 1.4, 1.5, 1.4, 1.4, 1.4, 1.3, 1.3, 1.1, 1.0, 0.9, 1.0, 1.2, 1.4,
    1.4]
DN_SIG_RED_LO = [
    0.9, 0.5, 0.5, 0.8, 1.0, 1.1, 1.0, 1.0, 0.9, 0.7, 0.5, 0.5, 0.6, 0.9, 1.1, 1.1,
    0.9, 0.5, 0.7, 0.8, 1.0, 1.0, 1.1, 1.0, 0.9, 0.6, 0.5, 0.5, 0.55, 0.8, 1.0, 1.1,
    1.0, 0.8, 0.5, 0.8, 1.0, 1.1, 1.0, 1.1, 0.9, 0.7, 0.6, 0.45, 0.5, 0.9, 1.1, 1.0,
    0.9, 0.7, 0.55, 0.7, 1.0, 1.0, 1.1, 1.0, 0.8, 0.7, 0.45, 0.45, 0.5, 0.8, 1.1, 1.1,
    1.0, 0.5, 0.7, 0.8, 1.0, 1.1, 1.1, 1.0, 0.9, 0.7, 0.55, 0.5, 0.5, 0.9, 1.1, 1.0,
    1.0, 0.6, 0.7, 0.9, 1.0, 1.1, 1.1, 1.0, 0.9, 0.6, 0.5, 0.45, 0.55, 0.8, 1.0, 1.1,
    0.9, 0.8, 0.55, 0.8, 1.0, 1.1, 1.0, 1.0, 0.9, 0.7, 0.5, 0.5, 0.55, 0.8, 1.1, 1.1,
    1.0, 0.8, 0.7, 0.9, 1.0, 1.1, 1.1, 1.1, 0.9, 0.7, 0.6, 0.45, 0.5, 0.9, 1.0, 1.1,
    0.9, 0.8, 0.7, 0.8, 1.0, 1.1, 1.0, 1.0, 0.9, 0.8, 0.55, 0.5, 0.55, 0.8, 1.1, 1.0,
    0.9, 0.9, 0.7, 0.8, 1.0, 1.0, 1.0, 1.0, 0.9, 0.8, 0.6, 0.5, 0.45, 0.55, 0.8, 1.0,
    1.0]

# ↓σ difference
DN_SIG_DIFF = [
    0.4, 0.6, 0.75, 0.4, 0.3, 0.5, 0.3, 0.2,
    0.4, 0.6, 0.3, 0.5, 0.7, 0.3, 0.4, 0.2,
    0.5, 0.3, 0.4, 0.6, 0.3, 0.5, 0.4, 0.3,
    0.5, 0.4, 0.3, 0.5, 0.6, 0.3, 0.4, 0.3,
    0.5, 0.3, 0.4, 0.6, 0.3, 0.8, 0.85, 0.5,
    0.4, 0.3, 0.5, 0.4, 0.6, 0.3, 0.4, 0.2,
    0.5, 0.6, 0.65, 0.4, 0.3, 0.5, 0.3, 0.2,
    0.4, 0.5, 0.3, 0.6, 0.7, 0.5, 0.3, 0.4,
    0.6, 0.8, 0.5, 0.3, 0.4, 0.6, 0.5, 0.3,
    0.4, 0.6, 0.5, 0.3, 0.4, 0.3, 0.5, 0.4,
    0.3, 0.6, 0.5, 0.4, 0.3, 0.5, 0.4, 0.6,
    0.5, 0.3, 0.4, 0.6, 0.3, 0.5, 0.4, 0.3,
    0.4, 0.5, 0.3, 0.6, 0.4, 0.3, 0.5, 0.3,
    0.6, 0.4, 0.5, 0.7, 0.6, 0.5, 0.4, 0.3,
    0.5, 0.4, 0.6, 0.4, 0.3, 0.5, 0.3, 0.2,
    0.3, 0.6, 0.5, 0.7, 0.5, 0.4, 0.6, 0.3,
    0.4, 0.3, 0.5, 0.3, 0.4, 0.6, 0.4, 0.3,
    0.5, 0.6, 0.4, 0.5, 0.3, 0.4, 0.7, 0.5,
    0.6, 0.4, 0.5, 0.3, 0.6, 0.5, 0.4, 0.3,
    0.5, 0.4, 0.3, 0.5, 0.4, 0.3, 0.2, 0.3,
    0.25]

# ---------------- figure ----------------
RED, BLUE, MAG = '#ff0000', '#0000ff', '#bf00bf'

fig, axes = plt.subplots(8, 1, sharex=True, figsize=(12.16, 7.92), dpi=100)
fig.subplots_adjust(left=0.078, right=0.96, top=0.996, bottom=0.073, hspace=0)


def band(ax, lo, hi, color, label=None, lw=1.2):
    lo = np.asarray(lo, float)
    hi = np.asarray(hi, float)
    ax.fill_between(T_NS, lo, hi, color=color, lw=0)
    ax.plot(T_NS, hi, color=color, lw=lw, label=label)
    ax.plot(T_NS, lo, color=color, lw=lw)


pairs = [
    ('bg', UP_DMU_RED_LO, UP_DMU_RED_HI, UP_DMU_BLUE_LO, UP_DMU_BLUE_HI),
    ('dd', UP_DMU_DIFF_LO, UP_DMU_DIFF_HI),
    ('bs', UP_SIG_RED_LO, UP_SIG_RED_HI, UP_SIG_BLUE_LO, UP_SIG_BLUE_HI),
    ('ds', UP_SIG_DIFF),
    ('bg', DN_DMU_RED_LO, DN_DMU_RED_HI, DN_DMU_BLUE_LO, DN_DMU_BLUE_HI),
    ('dd', DN_DMU_DIFF_LO, DN_DMU_DIFF_HI),
    ('bs', DN_SIG_RED_LO, DN_SIG_RED_HI, DN_SIG_BLUE_LO, DN_SIG_BLUE_HI),
    ('ds', DN_SIG_DIFF),
]

for ax, spec, ylab in zip(axes, pairs, YLABELS):
    kind = spec[0]
    if kind in ('bg', 'bs'):
        band(ax, spec[1], spec[2], RED, 'Background(1st pass)')
        band(ax, spec[3], spec[4], BLUE, 'Background(2nd pass)')
    elif kind == 'dd':
        band(ax, spec[1], spec[2], MAG, 'Difference')
    else:
        band(ax, np.zeros(len(spec[1])), spec[1], MAG, 'Difference')
    if kind in ('bg', 'dd'):
        ax.set_ylim(-2.85, 2.8)
        ax.set_yticks([-2, -1, 0, 1, 2])
    else:
        ax.set_ylim(0, 2.0)
        ax.set_yticks([0.0, 0.5, 1.0, 1.5])
        ax.set_yticklabels(['0.0', '0.5', '1.0', '1.5'])
    ax.axvline(DASH_X, color='k', ls='--', lw=1.2)
    ax.tick_params(labelsize=11, pad=2)
    ax.legend(loc='upper right', fontsize=11)
    ax.set_ylabel(ylab, rotation=0, fontsize=17)
    ax.yaxis.set_label_coords(-0.056, 0.45)

axes[-1].set_xlim(0, 80)
axes[-1].set_xticks(XTICKS)
axes[-1].set_xticklabels(XTICKLABELS, fontsize=11)
axes[-1].set_xlabel(r'$\phi$ $(Radians, ns)$', fontsize=17, labelpad=1)

fig.savefig('out.png', dpi=100)
